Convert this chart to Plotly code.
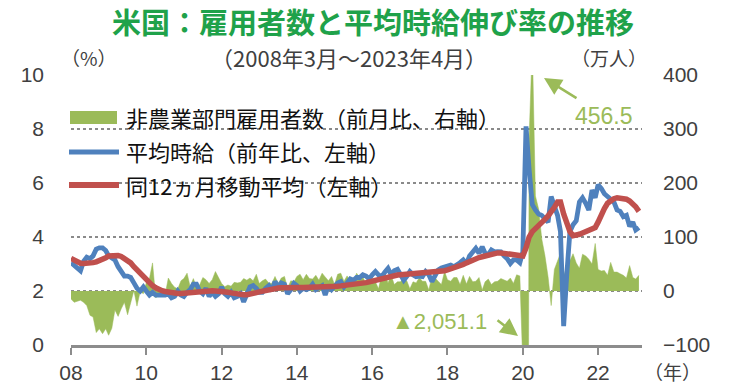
import plotly.graph_objects as go
import pandas as pd

# ---------------- data ----------------
months = pd.date_range("2008-03-01", "2023-04-01", freq="MS")

# Nonfarm payroll change (m/m, 10,000 persons) - right axis
payroll_change = [
    -15, -21, -19, -17, -21, -27, -45, -48, -77, -70,
    -79, -70, -82, -69, -35, -47, -33, -21, -44, -20, 1, -28,
    -1, -5, 15, 23, 52, -13, -7, 0, -6, 24, 14, 7,
    4, 19, 23, 33, 8, 23, 7, 11, 25, 21, 14, 21,
    36, 26, 14, 8, 11, 9, 16, 15, 16, 23, 20, 24,
    19, 31, 14, 19, 22, 15, 14, 27, 14, 24, 27, 5,
    19, 17, 27, 31, 21, 31, 23, 22, 29, 20, 33, 26,
    19, 27, 12, 31, 33, 18, 28, 18, 15, 33, 25, 27,
    12, 25, 23, 17, 4, 30, 34, 15, 29, 12, 17, 17,
    25, 18, 4, 17, 15, 25, 18, 18, 2, 27, 24, 18,
    12, 36, 21, 18, 25, 25, 12, 29, 13, 27, 17, 18,
    25, 2, 17, 22, 12, 17, 18, 23, 20, 18, 24, 14,
    30, 28, -137.3, -2051.1, 283.3, 456.5, 176, 152, 96, 66, 26, -27,
    40, 55, 70, 27, 45, 56, 69, 52, 42, 68, 65, 59,
    50, 88, 40, 37, 38, 29, 53, 35, 35, 32, 29, 24,
    47, 25, 22, 29,
]

# Average hourly earnings, y/y % - left axis
hourly_earnings_yoy = [
    3.05, 2.95, 2.9, 2.75, 3.1, 3.25, 3.2, 3.3, 3.55, 3.6,
    3.6, 3.5, 3.3, 3.2, 3.15, 2.9, 2.7, 2.55, 2.55, 2.5, 2.3, 2.1,
    2.0, 2.15, 2.0, 1.85, 1.95, 1.85, 1.85, 1.85, 1.85, 1.9, 1.75, 1.8,
    2.0, 1.85, 1.8, 1.95, 2.05, 2.25, 2.25, 2.0, 1.9, 2.1, 1.8, 1.95,
    1.8, 1.9, 2.15, 1.9, 1.8, 1.95, 1.75, 1.8, 1.9, 1.6, 1.85, 2.15,
    2.2, 2.1, 1.95, 1.95, 2.1, 2.2, 2.0, 2.35, 2.15, 2.3, 2.25, 1.9,
    2.05, 2.28, 2.2, 2.0, 2.1, 2.05, 2.1, 2.25, 2.05, 2.1, 2.2, 1.85,
    2.2, 2.05, 2.2, 2.3, 2.35, 2.15, 2.3, 2.45, 2.4, 2.5, 2.5, 2.6,
    2.55, 2.45, 2.6, 2.72, 2.6, 2.53, 2.7, 2.84, 2.6, 2.75, 2.8, 2.6,
    2.4, 2.55, 2.72, 2.6, 2.53, 2.55, 2.53, 2.72, 2.6, 2.35, 2.6, 2.78,
    2.85, 2.9, 2.9, 2.96, 2.9, 2.96, 3.05, 3.15, 3.0, 3.3, 3.45, 3.58,
    3.4, 3.64, 3.4, 3.35, 3.52, 3.45, 3.46, 3.45, 3.3, 3.2, 3.02, 3.15,
    3.15, 3.05, 3.45, 8.1, 6.5, 5.2, 5.0, 4.85, 4.8, 4.7, 4.55, 5.5,
    5.15, 4.8, 4.2, 0.7, 2.6, 4.2, 4.45, 4.6, 5.3, 5.45, 5.25, 5.0,
    5.74, 5.45, 5.93, 5.8, 5.6, 5.5, 5.43, 5.3, 5.0, 4.95, 4.75, 4.8,
    4.4, 4.55, 4.26, 4.35,
]

# 12-month moving average of the above - left axis
hourly_earnings_ma12 = [
    3.21, 3.15, 3.08, 3.03, 3.02, 3.02, 3.03, 3.05, 3.08, 3.12, 3.17, 3.23,
    3.3, 3.32, 3.33, 3.31, 3.28, 3.2, 3.12, 3.04, 2.9, 2.78, 2.65, 2.52,
    2.4, 2.3, 2.2, 2.12, 2.05, 2.01, 1.98, 1.95, 1.93, 1.92, 1.91, 1.91,
    1.92, 1.93, 1.95, 1.97, 1.99, 2.0, 2.0, 2.0, 2.01, 2.01, 2.0, 2.0,
    1.99, 1.97, 1.95, 1.93, 1.9, 1.88, 1.87, 1.86, 1.86, 1.87, 1.9, 1.94,
    1.97, 2.0, 2.03, 2.06, 2.08, 2.1, 2.11, 2.12, 2.13, 2.13, 2.13, 2.13,
    2.13, 2.13, 2.13, 2.13, 2.13, 2.14, 2.14, 2.15, 2.15, 2.14, 2.15, 2.16,
    2.17, 2.18, 2.19, 2.2, 2.21, 2.22, 2.23, 2.25, 2.27, 2.29, 2.31, 2.34,
    2.37, 2.4, 2.43, 2.46, 2.49, 2.52, 2.55, 2.57, 2.59, 2.6, 2.61, 2.62,
    2.63, 2.64, 2.65, 2.65, 2.65, 2.65, 2.65, 2.66, 2.68, 2.7, 2.72, 2.75,
    2.78, 2.81, 2.84, 2.88, 2.93, 2.98, 3.04, 3.1, 3.15, 3.2, 3.24, 3.27,
    3.3, 3.33, 3.36, 3.39, 3.41, 3.41, 3.39, 3.37, 3.35, 3.32, 3.29, 3.27,
    3.3, 3.6, 4.0, 4.2, 4.3, 4.42, 4.55, 4.65, 4.78, 4.92, 5.1, 5.3,
    5.3, 4.85, 4.5, 4.2, 4.05, 4.05, 4.1, 4.15, 4.2, 4.25, 4.28, 4.35,
    4.55, 4.85, 5.05, 5.25, 5.35, 5.42, 5.45, 5.45, 5.43, 5.4, 5.33, 5.25, 5.12, 4.95,
]

x_tick_dates = ["2008-03-01", "2010-03-01", "2012-03-01", "2014-03-01",
                "2016-03-01", "2018-03-01", "2020-03-01", "2022-03-01"]
x_tick_labels = ["08", "10", "12", "14", "16", "18", "20", "22"]

legend_labels = ["非農業部門雇用者数（前月比、右軸）", "平均時給（前年比、左軸）", "同12ヵ月移動平均（左軸）"]

# ---------------- styles ----------------
GREEN = "#9BBB59"
BLUE = "#4F81BD"
RED = "#C0504D"
TITLE_GREEN = "#1fa24a"
TXT = "#404040"
NUMFONT = "Liberation Sans, Arial, sans-serif"
JPFONT = "Noto Sans CJK JP, sans-serif"

W, H = 730, 390
L, R, T, B = 71, 642, 75, 345


def px(x):
    return (x - L) / (R - L)


def py(y):
    return (B - y) / (B - T)


fig = go.Figure()
fig.add_trace(go.Scatter(
    x=months, y=payroll_change, mode="lines", fill="tozeroy",
    line=dict(color=GREEN, width=0.5), fillcolor=GREEN,
    yaxis="y", showlegend=False, name=legend_labels[0]))
fig.add_trace(go.Scatter(
    x=months, y=hourly_earnings_yoy, mode="lines",
    line=dict(color=BLUE, width=4.8), yaxis="y2",
    showlegend=False, name=legend_labels[1]))
fig.add_trace(go.Scatter(
    x=months, y=hourly_earnings_ma12, mode="lines",
    line=dict(color=RED, width=5.5), yaxis="y2",
    showlegend=False, name=legend_labels[2]))

fig.update_layout(
    width=W, height=H,
    margin=dict(l=L, r=W - R, t=T, b=H - B, autoexpand=False),
    paper_bgcolor="white", plot_bgcolor="white",
    showlegend=False,
    xaxis=dict(
        range=["2008-03-01", "2023-05-01"],
        tickvals=x_tick_dates, ticktext=x_tick_labels,
        ticks="outside", ticklen=7, tickwidth=2, tickcolor="#8c8c8c",
        showline=True, linecolor="#8c8c8c", linewidth=2.5,
        showgrid=False, zeroline=False, automargin=False,
        tickfont=dict(family=NUMFONT, size=21, color=TXT),
    ),
    yaxis=dict(
        side="right", range=[-100, 400], dtick=100,
        showgrid=True, gridcolor="#8a8a8a", griddash="dot", gridwidth=1.5,
        zeroline=False, showline=False, ticks="", automargin=False,
        tickfont=dict(family=NUMFONT, size=21, color=TXT),
        ticklabelstandoff=20,
    ),
    yaxis2=dict(
        overlaying="y", side="left", range=[0, 10], dtick=2,
        showgrid=False, zeroline=False, showline=False, ticks="",
        automargin=False,
        tickfont=dict(family=NUMFONT, size=21, color=TXT),
        ticklabelstandoff=26,
    ),
)

shapes = [
    # legend background (hides gridlines)
    dict(type="rect", xref="paper", yref="paper",
         x0=px(62), x1=px(512), y0=py(203), y1=py(99),
         fillcolor="white", line=dict(width=0), layer="between"),
    dict(type="rect", xref="paper", yref="paper",
         x0=px(70), x1=px(117), y0=py(124), y1=py(111),
         fillcolor=GREEN, line=dict(width=0), layer="above"),
    dict(type="line", xref="paper", yref="paper",
         x0=px(69), x1=px(119), y0=py(152), y1=py(152),
         line=dict(color=BLUE, width=5), layer="above"),
    dict(type="line", xref="paper", yref="paper",
         x0=px(69), x1=px(119), y0=py(185), y1=py(185),
         line=dict(color=RED, width=6), layer="above"),
]
fig.update_layout(shapes=shapes)

ann = []
for lbl, yy in zip(legend_labels, [117, 151, 185]):
    ann.append(dict(text=lbl, x=px(124), y=py(yy), xref="paper", yref="paper",
                    xanchor="left", yanchor="middle", showarrow=False,
                    font=dict(family=JPFONT, size=22, color="#111111")))

ann += [
    dict(text="米国：雇用者数と平均時給伸び率の推移", x=px(373), y=py(21),
         xref="paper", yref="paper", xanchor="center", yanchor="middle",
         showarrow=False,
         font=dict(family=JPFONT, size=29, color=TITLE_GREEN, weight="bold")),
    dict(text="（2008年3月～2023年4月）", x=px(349), y=py(57),
         xref="paper", yref="paper", xanchor="center", yanchor="middle",
         showarrow=False, font=dict(family=JPFONT, size=22, color=TXT)),
    dict(text="（%）", x=px(89), y=py(57),
         xref="paper", yref="paper", xanchor="center", yanchor="middle",
         showarrow=False, font=dict(family=JPFONT, size=19, color=TXT)),
    dict(text="（万人）", x=px(609), y=py(57),
         xref="paper", yref="paper", xanchor="center", yanchor="middle",
         showarrow=False, font=dict(family=JPFONT, size=19, color=TXT)),
    dict(text="（年）", x=px(672), y=py(371),
         xref="paper", yref="paper", xanchor="center", yanchor="middle",
         showarrow=False, font=dict(family=JPFONT, size=19, color=TXT)),
    dict(text="456.5", x=px(604), y=py(116),
         xref="paper", yref="paper", xanchor="center", yanchor="middle",
         showarrow=False, font=dict(family=NUMFONT, size=23, color=GREEN)),
    dict(text="▲2,051.1", x=px(439), y=py(321),
         xref="paper", yref="paper", xanchor="center", yanchor="middle",
         showarrow=False, font=dict(family=NUMFONT, size=22, color=GREEN)),
    # arrows
    dict(text="", x=px(544), y=py(78), xref="paper", yref="paper",
         showarrow=True, ax=34, ay=21, arrowcolor=GREEN, arrowwidth=2.5,
         arrowhead=2, arrowsize=1.4, standoff=0),
    dict(text="", x=px(518), y=py(336), xref="paper", yref="paper",
         showarrow=True, ax=-22, ay=-17, arrowcolor=GREEN, arrowwidth=2.5,
         arrowhead=2, arrowsize=1.4, standoff=0),
]
fig.update_layout(annotations=ann)

fig.write_html("out.html",
               config={"displayModeBar": False, "staticPlot": True},
               post_script="document.body.style.margin='0px';document.body.style.overflow='hidden';")
